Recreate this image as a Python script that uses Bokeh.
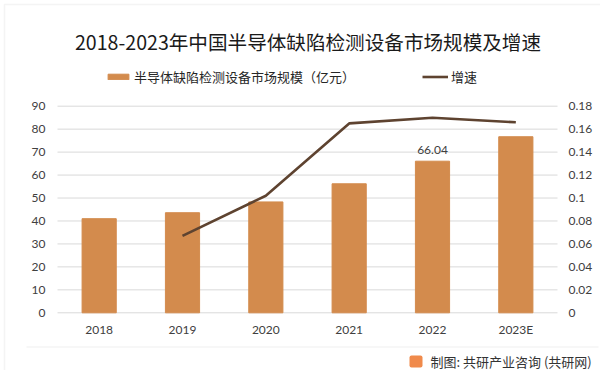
from bokeh.plotting import figure
from bokeh.models import (Range1d, LinearAxis, FixedTicker, CustomJSTickFormatter, Label,
                          Legend, LegendItem, BoxAnnotation, ColumnDataSource)
from bokeh.core.properties import value
from bokeh.embed import file_html
from bokeh.resources import INLINE

# ---------------- data ----------------
years = ["2018", "2019", "2020", "2021", "2022", "2023E"]
scale = [41.0, 43.6, 48.3, 56.2, 66.04, 76.7]
growth = [float("nan"), 0.067, 0.102, 0.165, 0.170, 0.166]
left_ticks = [0, 10, 20, 30, 40, 50, 60, 70, 80, 90]
right_ticks = [0, 0.02, 0.04, 0.06, 0.08, 0.10, 0.12, 0.14, 0.16, 0.18]
title_text = "2018-2023年中国半导体缺陷检测设备市场规模及增速"
bar_name = "半导体缺陷检测设备市场规模（亿元）"
line_name = "增速"
source_text = "制图: 共研产业咨询 (共研网)"
labelled_index = 4

# ---------------- style / layout ----------------
CJK = "Noto Sans CJK SC"
NUM = "Lato"
BAR = "#D38B4D"
LINE = "#5E4330"
TXT = "#404040"

W, H = 600, 370
FL, FR, FT, FB = 57.0, 557.0, 105.7, 312.3       # plot area in pixels
LMAX, RMAX = 90.0, 0.18

n = len(years)
cw = (FR - FL) / n                                # px per category
x_start = -0.5 - FL / cw
x_end = n - 0.5 + (W - FR) / cw
ppu = (FB - FT) / LMAX
y_start = -(H - FB) / ppu
y_end = LMAX + FT / ppu
k = RMAX / LMAX

def sy(py):      # pixel from top -> screen units from bottom
    return H - py

p = figure(x_range=Range1d(x_start, x_end), y_range=Range1d(y_start, y_end),
           width=W, height=H, output_backend="svg", toolbar_location=None,
           x_axis_location=None, y_axis_location=None, min_border=0)
p.extra_y_ranges = {"g": Range1d(y_start * k, y_end * k)}
p.outline_line_color = None
p.grid.visible = False
p.background_fill_color = "white"
p.border_fill_color = "white"

xi = list(range(n))
src = ColumnDataSource(dict(x=xi, s=scale, g=growth))

# grid lines at the left-axis ticks, spanning the plot area only
p.segment(x0=[-0.5] * len(left_ticks), x1=[n - 0.5] * len(left_ticks),
          y0=left_ticks, y1=left_ticks, line_color="#d9d9d9", line_width=1)

bars = p.vbar(x="x", top="s", width=0.41, source=src, color=BAR)
line = p.line(x="x", y="g", source=src, y_range_name="g", line_color=LINE,
              line_width=2.6, line_cap="butt", line_join="round")

p.text(x=[xi[labelled_index]], y=[scale[labelled_index]],
       text=[f"{scale[labelled_index]:.2f}"], y_offset=-7,
       text_font=value(NUM), text_font_size="12px", text_color=TXT,
       text_align="center", text_baseline="bottom")

def style_axis(ax, standoff):
    ax.axis_line_color = None
    ax.major_tick_line_color = None
    ax.minor_tick_line_color = None
    ax.major_tick_out = 0
    ax.major_tick_in = 0
    ax.minor_tick_out = 0
    ax.minor_tick_in = 0
    ax.major_label_text_font = NUM
    ax.major_label_text_font_size = "12px"
    ax.major_label_text_color = TXT
    ax.major_label_standoff = standoff

lax = LinearAxis(fixed_location=-0.5, ticker=FixedTicker(ticks=left_ticks))
style_axis(lax, 12)
p.add_layout(lax, "left")

rax = LinearAxis(fixed_location=n - 0.5, y_range_name="g",
                 ticker=FixedTicker(ticks=right_ticks),
                 formatter=CustomJSTickFormatter(code="""
                 var s = tick.toFixed(2); s = s.replace(/0+$/, ''); s = s.replace(/\\.$/, ''); return s;"""))
style_axis(rax, 11)
p.add_layout(rax, "right")

xax = LinearAxis(fixed_location=0, ticker=FixedTicker(ticks=xi),
                 major_label_overrides={i: years[i] for i in xi})
style_axis(xax, 9)
p.add_layout(xax, "below")

# outer frame of the picture and separator above the source note
p.add_layout(BoxAnnotation(left=4, right=610, top=sy(4), bottom=sy(381),
                           left_units="screen", right_units="screen",
                           top_units="screen", bottom_units="screen",
                           fill_alpha=0, line_color="#d9d9d9", line_width=1.5))
p.add_layout(BoxAnnotation(left=26, right=598, top=sy(346.5), bottom=sy(346.5),
                           left_units="screen", right_units="screen",
                           top_units="screen", bottom_units="screen",
                           fill_alpha=0, line_color="#e3e3e3", line_width=1))

# title
p.add_layout(Label(x=307.5, y=sy(41), x_units="screen", y_units="screen",
                   text=title_text, text_font=CJK, text_font_size="19.6px",
                   text_color="#1a1a1a", text_align="center", text_baseline="middle"))

# legend (bottom-left corner in screen units)
legend = Legend(items=[LegendItem(label=bar_name, renderers=[bars]),
                       LegendItem(label=line_name, renderers=[line])],
                orientation="horizontal", location=(105, sy(86)),
                glyph_width=26, glyph_height=7, label_standoff=3, spacing=67,
                padding=0, margin=0, border_line_color=None,
                background_fill_alpha=0, label_text_font=CJK,
                label_text_font_size="13px", label_text_color="#262626",
                label_height=15)
p.add_layout(legend, "center")

# source note with its small logo
p.add_layout(BoxAnnotation(left=409, right=422, top=sy(355), bottom=sy(367),
                           left_units="screen", right_units="screen",
                           top_units="screen", bottom_units="screen",
                           fill_color="#F08A4B", fill_alpha=1, line_color=None,
                           border_radius=2))
p.add_layout(Label(x=430, y=sy(360.5), x_units="screen", y_units="screen",
                   text=source_text, text_font=CJK, text_font_size="13px",
                   text_color="#333333", text_align="left", text_baseline="middle"))

open("out.html", "w").write(file_html(p, INLINE))
